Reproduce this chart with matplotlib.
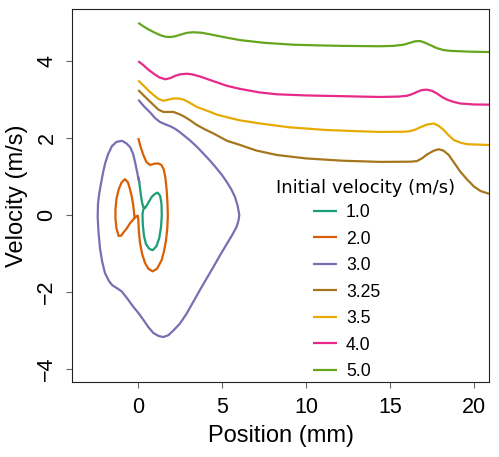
import matplotlib
matplotlib.use("Agg")
import matplotlib.pyplot as plt

# Phase-space trajectories: position (mm) vs velocity (m/s), one per initial velocity
labels = ["1.0", "2.0", "3.0", "3.25", "3.5", "4.0", "5.0"]
colors = ["#1b9e77", "#d95f02", "#7570b3", "#a6761d", "#e6ab02", "#e7298a", "#66a61e"]

x_10 = [0.0, 0.05, 0.10, 0.16, 0.22, 0.30, 0.40, 0.55, 0.80, 1.0, 1.15, 1.30,
        1.38, 1.40, 1.36, 1.25, 1.08, 0.85, 0.65, 0.46, 0.34, 0.27, 0.25, 0.30, 0.42]
v_10 = [1.0, 0.88, 0.70, 0.50, 0.33, 0.20, 0.18, 0.28, 0.47, 0.55, 0.58, 0.50,
        0.30, 0.0, -0.30, -0.60, -0.82, -0.92, -0.88, -0.76, -0.55, -0.25, 0.02,
        0.14, 0.22]

x_20 = [0.0, 0.12, 0.30, 0.48, 0.70, 0.95, 1.19, 1.38, 1.52, 1.62, 1.69, 1.74,
        1.76, 1.73, 1.65, 1.53, 1.39, 1.12, 0.85, 0.60, 0.40, 0.22, 0.10, 0.03,
        0.0, -0.03, -0.12, -0.30, -0.48, -0.70, -0.87, -1.02, -1.17, -1.30,
        -1.36, -1.36, -1.30, -1.17, -1.0, -0.80, -0.62, -0.50, -0.38, -0.30,
        -0.25, -0.22]
v_20 = [2.0, 1.80, 1.56, 1.38, 1.30, 1.33, 1.34, 1.30, 1.18, 0.95, 0.65, 0.30,
        -0.04, -0.35, -0.67, -0.95, -1.18, -1.40, -1.47, -1.40, -1.25, -1.0,
        -0.72, -0.40, -0.12, -0.02, -0.04, -0.12, -0.21, -0.36, -0.45, -0.54,
        -0.55, -0.35, -0.10, 0.15, 0.42, 0.66, 0.84, 0.93, 0.85, 0.68, 0.46,
        0.25, 0.05, -0.08]

x_30 = [0.0, 0.35, 0.70, 1.0, 1.29, 1.6, 1.89, 2.2, 2.49, 3.08, 3.5, 3.87, 4.3,
        4.67, 5.0, 5.27, 5.55, 5.76, 5.92, 6.02, 5.97, 5.86, 5.6, 5.27, 4.9,
        4.47, 4.08, 3.68, 3.28, 2.88, 2.48, 2.09, 1.8, 1.49, 1.2, 0.89, 0.6,
        0.30, 0.0, -0.30, -0.65, -0.99, -1.3, -1.55, -1.75, -1.98, -2.15, -2.28,
        -2.37, -2.42, -2.40, -2.33, -2.22, -2.1, -1.97, -1.8, -1.57, -1.3, -0.97,
        -0.7, -0.48, -0.3, -0.18, -0.06, 0.02, 0.08]
v_30 = [3.0, 2.82, 2.67, 2.52, 2.42, 2.36, 2.31, 2.24, 2.15, 1.94, 1.77, 1.60,
        1.40, 1.21, 1.03, 0.86, 0.66, 0.47, 0.24, 0.0, -0.15, -0.31, -0.52,
        -0.76, -1.03, -1.36, -1.65, -1.95, -2.26, -2.57, -2.83, -3.01, -3.13,
        -3.18, -3.15, -3.07, -2.92, -2.73, -2.55, -2.39, -2.18, -1.99, -1.90,
        -1.83, -1.72, -1.52, -1.22, -0.88, -0.45, -0.05, 0.30, 0.55, 0.82, 1.10,
        1.35, 1.58, 1.79, 1.90, 1.93, 1.86, 1.76, 1.58, 1.35, 1.10, 0.91, 0.82]

x_325 = [0.0, 0.3, 0.6, 0.91, 1.2, 1.5, 1.8, 2.1, 2.4, 2.7, 3.1, 3.49, 4.0, 4.48,
         5.28, 6.07, 7.0, 8.25, 10.0, 12.2, 14.4, 16.2, 16.6, 16.9, 17.2, 17.6,
         17.9, 18.2, 18.5, 18.85, 19.2, 19.6, 20.0, 20.4, 20.9]
v_325 = [3.25, 3.12, 2.99, 2.86, 2.74, 2.68, 2.68, 2.68, 2.63, 2.57, 2.46, 2.34,
         2.22, 2.12, 1.93, 1.82, 1.68, 1.56, 1.47, 1.41, 1.38, 1.385, 1.40, 1.47,
         1.57, 1.67, 1.71, 1.67, 1.56, 1.34, 1.12, 0.92, 0.74, 0.62, 0.55]

x_35 = [0.0, 0.3, 0.6, 0.91, 1.2, 1.5, 1.8, 2.1, 2.4, 2.7, 3.1, 3.49, 4.29, 4.68,
        5.4, 6.07, 7.26, 9.0, 11.2, 13.0, 14.4, 15.8, 16.2, 16.5, 16.8, 17.2,
        17.6, 17.9, 18.2, 18.5, 18.8, 19.2, 19.6, 20.9]
v_35 = [3.5, 3.37, 3.24, 3.12, 3.02, 2.97, 3.0, 3.03, 3.03, 3.0, 2.91, 2.81,
        2.68, 2.61, 2.53, 2.46, 2.38, 2.28, 2.21, 2.18, 2.16, 2.165, 2.18, 2.22,
        2.28, 2.35, 2.38, 2.32, 2.21, 2.07, 1.95, 1.88, 1.84, 1.82]

x_40 = [0.0, 0.3, 0.6, 0.91, 1.25, 1.61, 1.9, 2.2, 2.5, 2.9, 3.19, 3.7, 4.29,
        5.28, 6.07, 7.2, 8.25, 10.0, 12.2, 14.4, 15.5, 16.0, 16.3, 16.6, 16.9,
        17.2, 17.5, 17.8, 18.1, 18.4, 18.8, 19.2, 20.0, 20.9]
v_40 = [4.0, 3.90, 3.78, 3.68, 3.58, 3.53, 3.56, 3.62, 3.66, 3.675, 3.66, 3.60,
        3.51, 3.36, 3.28, 3.19, 3.14, 3.11, 3.09, 3.07, 3.08, 3.10, 3.14, 3.20,
        3.25, 3.26, 3.23, 3.16, 3.07, 3.0, 2.94, 2.90, 2.875, 2.87]

x_50 = [0.0, 0.3, 0.6, 0.91, 1.3, 1.6, 1.9, 2.2, 2.5, 2.9, 3.3, 3.8, 4.29, 5.2,
        6.07, 7.5, 9.25, 11.0, 12.2, 14.4, 15.2, 15.8, 16.2, 16.5, 16.8, 17.1,
        17.5, 17.8, 18.2, 18.6, 19.7, 20.9]
v_50 = [5.0, 4.91, 4.83, 4.76, 4.68, 4.64, 4.63, 4.65, 4.69, 4.74, 4.755, 4.74,
        4.70, 4.62, 4.55, 4.48, 4.43, 4.41, 4.40, 4.39, 4.40, 4.43, 4.48, 4.52,
        4.525, 4.48, 4.40, 4.34, 4.29, 4.27, 4.25, 4.24]

xs = [x_10, x_20, x_30, x_325, x_35, x_40, x_50]
vs = [v_10, v_20, v_30, v_325, v_35, v_40, v_50]

x_ticks = [0, 5, 10, 15, 20]
y_ticks = [-4, -2, 0, 2, 4]

plt.rcParams["font.family"] = ["Liberation Sans", "DejaVu Sans"]

fig = plt.figure(figsize=(4.99, 4.57), dpi=100)
ax = fig.add_axes([72 / 499, 1 - 382 / 457, 417 / 499, 373 / 457])

for x, v, lab, col in zip(xs, vs, labels, colors):
    ax.plot(x, v, color=col, lw=1.6, label=lab, solid_joinstyle="round",
            solid_capstyle="butt")

ax.set_xlim(-3.95, 20.9)
ax.set_ylim(-4.35, 5.36)
ax.set_xticks(x_ticks)
ax.set_yticks(y_ticks)
ax.tick_params(direction="out", length=4.5, width=0.8, color="#666666",
               labelsize=15.5, pad=6)
ax.tick_params(axis="y", labelrotation=90)
for t in ax.get_yticklabels():
    t.set_va("center")
for s in ax.spines.values():
    s.set_linewidth(0.8)
    s.set_color("#222222")

ax.set_xlabel("Position (mm)", fontsize=17)
ax.set_ylabel("Velocity (m/s)", fontsize=17)
ax.xaxis.set_label_coords(0.5, -0.115)
ax.yaxis.set_label_coords(-0.105, 0.5)

leg = ax.legend(loc="upper left", bbox_to_anchor=(313 / 499, 1 - 204 / 457),
                bbox_transform=fig.transFigure, frameon=False, fontsize=12.7,
                handlelength=1.36, handletextpad=0.5, labelspacing=0.54,
                borderpad=0, borderaxespad=0)
fig.text(366 / 499, 1 - 188 / 457, "Initial velocity (m/s)", ha="center",
         va="center", fontsize=13, family="DejaVu Sans")

fig.savefig("out.png", dpi=100)
